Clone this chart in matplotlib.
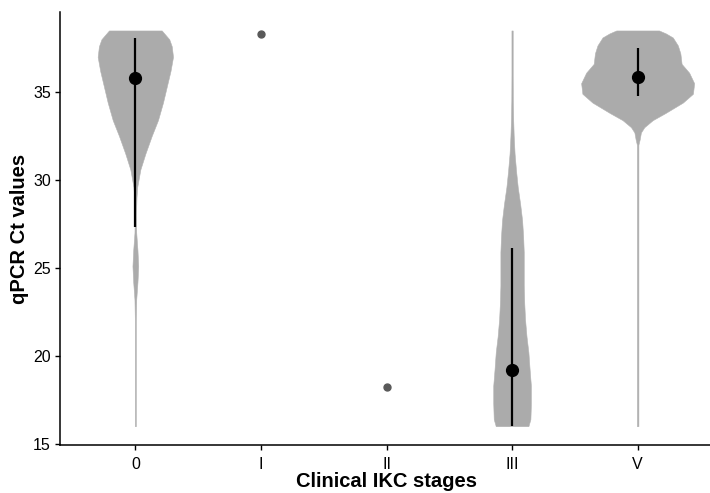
import numpy as np
import matplotlib
matplotlib.use("Agg")
import matplotlib.pyplot as plt

plt.rcParams['font.family'] = ['Liberation Sans', 'DejaVu Sans']

categories = ["0", "I", "II", "III", "V"]

# violin profiles (y value, half-width in category units)
y_v0 = [16.0, 22.0, 23.2, 24.2, 25.1, 26.0, 27.0, 28.0, 29.0, 29.6, 30.6, 31.5,
        32.5, 33.4, 34.4, 35.3, 36.2, 37.0, 37.6, 38.0, 38.5]
w_v0 = [0.004, 0.004, 0.007, 0.017, 0.023, 0.017, 0.007, 0.005, 0.009, 0.015, 0.04,
        0.08, 0.13, 0.18, 0.22, 0.25, 0.28, 0.30, 0.29, 0.27, 0.21]

y_v3 = [16.0, 16.4, 17.3, 18.3, 19.2, 20.2, 21.1, 22.1, 23.0, 24.0, 25.0, 25.9,
        26.8, 27.7, 28.6, 29.6, 30.5, 31.5, 32.5, 33.4, 34.5, 36.0, 38.5]
w_v3 = [0.13, 0.146, 0.15, 0.15, 0.14, 0.13, 0.115, 0.103, 0.097, 0.093, 0.093,
        0.093, 0.088, 0.08, 0.065, 0.045, 0.032, 0.02, 0.013, 0.009, 0.006, 0.005, 0.005]

y_v5 = [16.0, 32.0, 32.3, 32.7, 33.0, 33.4, 33.8, 34.4, 34.9, 35.5, 36.1, 36.6,
        37.2, 37.65, 38.1, 38.33, 38.5]
w_v5 = [0.006, 0.006, 0.016, 0.026, 0.053, 0.12, 0.22, 0.36, 0.44, 0.45, 0.41,
        0.35, 0.34, 0.32, 0.28, 0.225, 0.17]

violins = {0: (y_v0, w_v0), 3: (y_v3, w_v3), 4: (y_v5, w_v5)}

# summary: median with range line
med_idx = [0, 3, 4]
medians = [35.8, 19.2, 35.85]
lower = [27.35, 16.0, 34.8]
upper = [38.05, 26.15, 37.5]

# single observations
single_idx = [1, 2]
single_vals = [38.3, 18.25]

fig = plt.figure(figsize=(7.10, 4.93), dpi=100)
ax = fig.add_axes([60/710, 48/493, 653/710, 433/493])

for i, (yy, ww) in violins.items():
    yy = np.array(yy); ww = np.array(ww)
    ax.fill_betweenx(yy, i - ww, i + ww, color="#ababab", linewidth=0.4,
                     edgecolor="#b3b3b3", zorder=1)

ax.vlines(med_idx, lower, upper, color="black", linewidth=1.6, zorder=2)
ax.plot(med_idx, medians, 'o', color="black", markersize=8.5, zorder=3)
ax.plot(single_idx, single_vals, 'o', color="#595959", markersize=5, zorder=3)

ax.set_xlim(-0.6, 4.6)
ax.set_ylim(14.93, 39.55)
ax.set_xticks(range(len(categories)))
ax.set_xticklabels(categories)
ax.set_yticks([15, 20, 25, 30, 35])

for s in ["top", "right"]:
    ax.spines[s].set_visible(False)
for s in ["left", "bottom"]:
    ax.spines[s].set_linewidth(1.1)
ax.tick_params(axis="both", length=3.5, width=1.0, labelsize=11.5, colors="black")
ax.tick_params(axis="x", pad=5)
ax.tick_params(axis="y", pad=3)

ax.set_xlabel("Clinical IKC stages", fontsize=14.5, fontweight="bold", labelpad=0)
ax.set_ylabel("qPCR Ct values", fontsize=14.5, fontweight="bold", labelpad=3)

fig.savefig("out.png", dpi=100)
